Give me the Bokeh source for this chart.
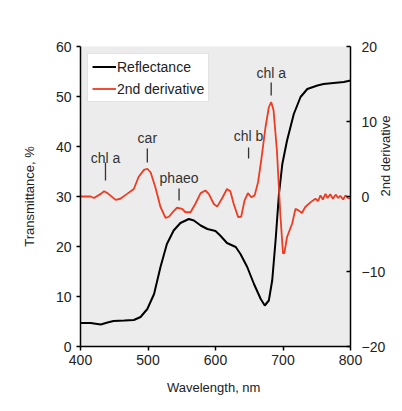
import math
from bokeh.plotting import figure
from bokeh.models import Range1d, LinearAxis, Legend, LegendItem, ColumnDataSource, FixedTicker
from bokeh.embed import file_html
from bokeh.resources import INLINE
from bokeh.core.properties import value

# Reflectance (left axis, %)
wl_refl = [400, 415, 430, 440, 449, 465, 479, 489, 499, 509, 518.5, 528, 538, 548, 560.5, 568, 578,
           588, 600, 607, 617, 630, 637, 647, 657, 667, 673, 679, 684, 689, 694, 699, 706, 716,
           726, 736, 751, 760, 775, 790, 800]
refl = [4.7, 4.7, 4.4, 4.8, 5.1, 5.2, 5.3, 5.9, 7.5, 10.5, 15.9, 20.5, 23.2, 24.7, 25.5, 25.2, 24.2,
        23.5, 23.1, 22.2, 20.7, 19.9, 18.5, 15.9, 12.5, 9.5, 8.2, 9.2, 13.2, 21.2, 30.5, 36.5, 41.2, 46.5,
        49.9, 51.5, 52.2, 52.5, 52.7, 52.9, 53.2]

# 2nd derivative (right axis)
wl_deriv = [400, 415, 420, 430, 435, 440, 452, 459, 469, 479, 486, 494, 499, 504, 511, 518.5, 526,
            531, 538, 543, 550.6, 555.5, 563, 570, 578, 585, 590, 597.5, 602.5, 610, 617, 622, 627,
            633.6, 638, 643, 648, 653, 658, 663, 667.7, 674, 679, 682.5, 686, 691, 696, 700, 702,
            706, 713.6, 718.5, 723, 728, 733, 741, 748, 752, 755.5, 759, 763, 766, 770, 774, 778,
            782, 785, 789, 792.6, 796, 800]
deriv = [0, 0, -0.2, 0.35, 0.7, 0.45, -0.45, -0.3, 0.35, 1.0, 2.6, 3.55, 3.7, 3.2, 1.2, -1.4, -2.85,
         -2.7, -1.95, -1.5, -1.65, -2.1, -2.1, -1.0, 0.45, 0.8, 0.35, -1.0, -1.35, -0.2, 1.0, 0.7, -1.0,
         -2.75, -2.7, -0.55, 0.45, -0.1, 0.15, 1.9, 4.8, 9.2, 11.9, 12.6, 11.5, 6.1, -2.3, -7.6, -7.55,
         -5.4, -3.6, -1.65, -1.85, -2.2, -1.4, -0.75, -0.3, -0.6, 0.15, -0.4, 0.35, -0.2, 0.3, -0.3, 0.25,
         -0.2, 0.1, -0.4, 0.15, -0.2, -0.3]

# band annotations
ann_text = ["chl a", "car", "phaeo", "chl b", "chl a"]
ann_x = [437, 499, 546, 649, 682.5]
ann_text_y = [37.8, 41.8, 33.8, 42.2, 54.8]
ann_y0 = [33.2, 36.8, 29.2, 37.6, 50.2]
ann_y1 = [36.8, 39.6, 31.6, 39.8, 52.8]

x_ticks = [400, 500, 600, 700, 800]
left_ticks = [0, 10, 20, 30, 40, 50, 60]
right_ticks = [-20, -10, 0, 10, 20]

FONT = "Liberation Sans"

p = figure(frame_width=270, frame_height=300, output_backend="svg", toolbar_location=None,
           x_range=Range1d(400, 800), y_range=Range1d(0, 60),
           min_border_left=80, min_border_right=46, min_border_top=46, min_border_bottom=62)
p.extra_y_ranges = {"deriv": Range1d(-20, 20)}
p.background_fill_color = "#ececec"
p.border_fill_color = "white"
p.outline_line_color = None
p.grid.visible = False

r_refl = p.line(wl_refl, refl, line_color="black", line_width=2)
r_der = p.line(wl_deriv, deriv, line_color="#ee3b22", line_width=1.8, y_range_name="deriv")

src = ColumnDataSource(dict(x=ann_x, t=ann_text, ty=ann_text_y, y0=ann_y0, y1=ann_y1))
p.segment(x0="x", y0="y0", x1="x", y1="y1", source=src, line_color="#333333", line_width=1.3)
p.text(x="x", y="ty", text="t", source=src, text_align="center", text_baseline="middle",
       text_font=value(FONT), text_font_size="14px", text_color="#333333")

right = LinearAxis(y_range_name="deriv")
p.add_layout(right, "right")

for ax in [p.xaxis[0], p.yaxis[0], right]:
    ax.axis_line_color = "black"
    ax.axis_line_width = 1.5
    ax.major_tick_line_color = "black"
    ax.major_tick_line_width = 1.5
    ax.minor_tick_line_color = None
    ax.major_label_text_font = FONT
    ax.major_label_text_font_size = "14px"
    ax.major_label_text_color = "#222222"
    ax.major_tick_out = 4
    ax.major_tick_in = 0
    ax.axis_label_text_font = FONT
    ax.axis_label_text_font_size = "13px"
    ax.axis_label_text_font_style = "normal"
    ax.axis_label_text_color = "#222222"
right.major_tick_in = 4
right.major_tick_out = 0
p.xaxis[0].ticker = FixedTicker(ticks=x_ticks)
p.yaxis[0].ticker = FixedTicker(ticks=left_ticks)
right.ticker = FixedTicker(ticks=right_ticks)
p.xaxis[0].major_label_standoff = 4
p.yaxis[0].major_label_standoff = 5
right.major_label_standoff = 11

p.xaxis[0].axis_label = "Wavelength,  nm"
p.yaxis[0].axis_label = "Transmittance, %"
right.axis_label = "2nd derivative"
p.xaxis[0].axis_label_standoff = 12
p.yaxis[0].axis_label_standoff = 16
right.axis_label_standoff = -3
try:
    right.axis_label_orientation = math.pi / 2
except Exception:
    pass

legend = Legend(items=[LegendItem(label="Reflectance", renderers=[r_refl]),
                       LegendItem(label="2nd derivative", renderers=[r_der])],
                location="top_left", margin=7, padding=4, spacing=5,
                glyph_width=24, glyph_height=17, label_height=17, label_standoff=1,
                label_text_font=FONT, label_text_font_size="14px", label_text_color="#222222",
                background_fill_color="white", background_fill_alpha=1.0,
                border_line_color="#c8c8c8", border_line_width=1)
p.add_layout(legend)

open("out.html", "w").write(file_html(p, INLINE))
